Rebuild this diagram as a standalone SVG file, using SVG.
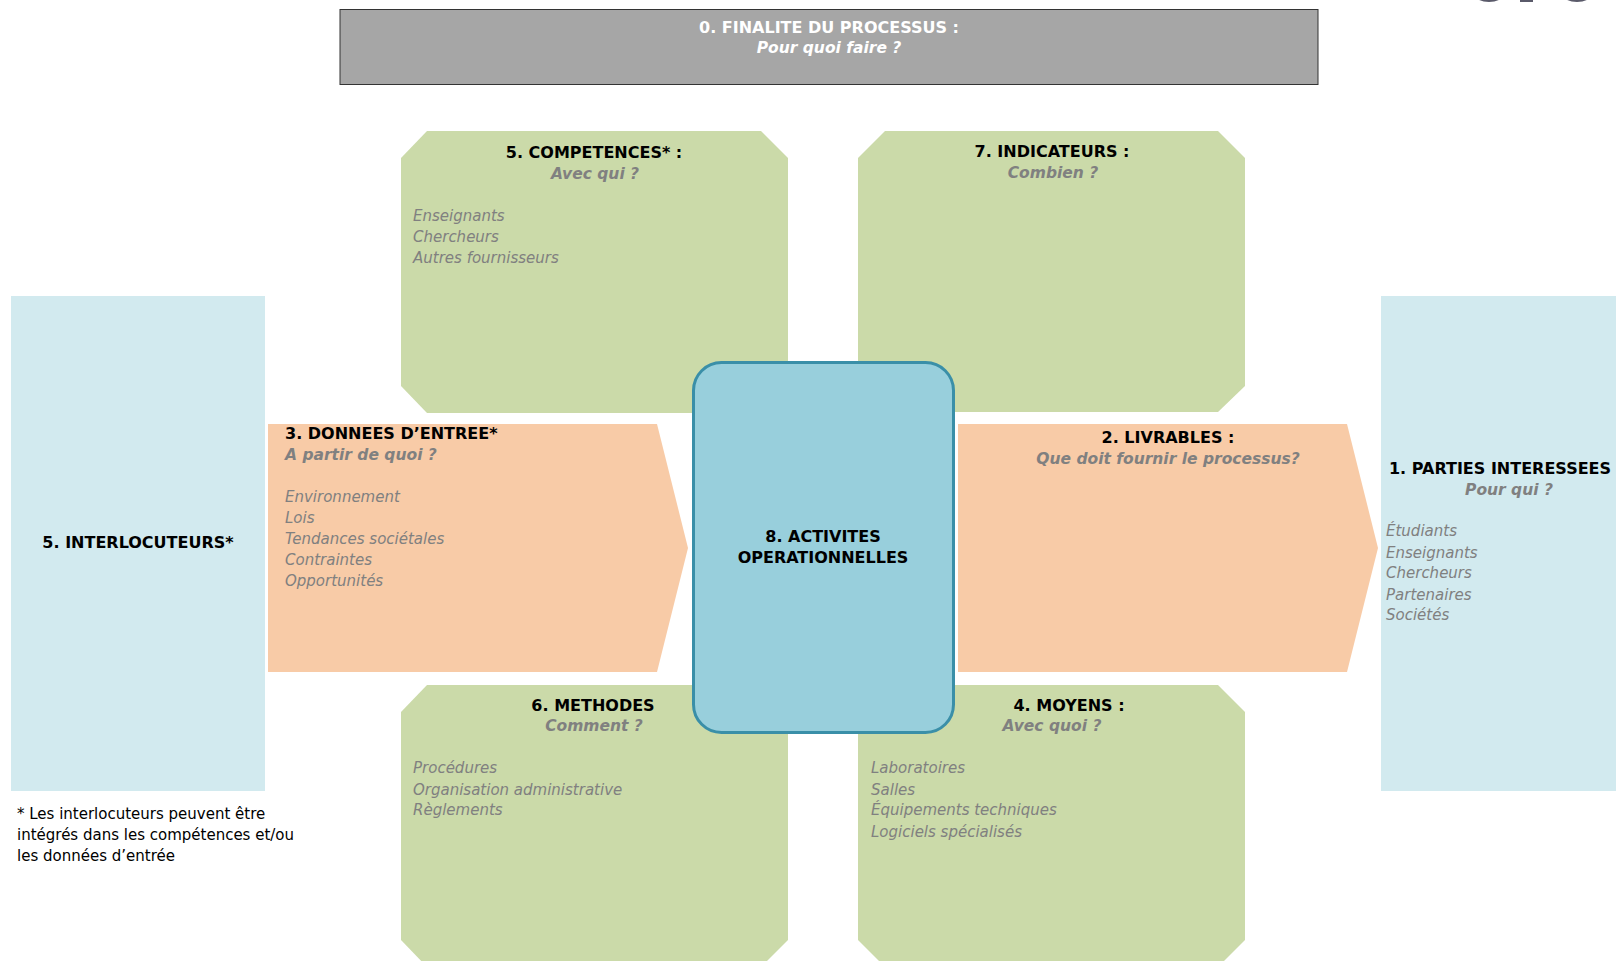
<svg xmlns="http://www.w3.org/2000/svg" width="1616" height="961" viewBox="0 0 1616 961">
<style>
.green{fill:#cbdaa9}
.orange{fill:#f8cba7}
.side{fill:#d2eaef}
.h{font-family:"DejaVu Sans",Verdana,sans-serif;font-weight:bold;font-size:16px;fill:#000}
.sub{font-family:"DejaVu Sans",Verdana,sans-serif;font-weight:bold;font-style:italic;font-size:15.5px;fill:#808080}
.item{font-family:"DejaVu Sans",Verdana,sans-serif;font-style:italic;font-size:15px;fill:#808080}
.note{font-family:"DejaVu Sans",Verdana,sans-serif;font-size:15px;fill:#000}
.c{text-anchor:middle}
</style>
<rect width="1616" height="961" fill="#ffffff"/>

<g id="logo-fragment" fill="#5a5a6a">
<ellipse cx="1489" cy="-5" rx="14" ry="7"/>
<rect x="1520" y="0" width="13" height="2"/>
<ellipse cx="1577" cy="-5" rx="14" ry="7"/>
</g>

<g id="node-finalite">
<rect x="340" y="9.5" width="978" height="75" fill="#a6a6a6" stroke="#333333" stroke-width="1"/>
<text class="h c" x="829" y="33" style="fill:#ffffff">0. FINALITE DU PROCESSUS :</text>
<text class="sub c" x="829" y="53" style="fill:#ffffff">Pour quoi faire ?</text>
</g>

<g id="node-competences">
<polygon class="green" points="427,131 761,131 788,158 788,386 761,413 427,413 401,386 401,158"/>
<text class="h c" x="594" y="158">5. COMPETENCES* :</text>
<text class="sub c" x="595" y="179">Avec qui ?</text>
<text class="item" x="413" y="221">Enseignants</text>
<text class="item" x="413" y="242">Chercheurs</text>
<text class="item" x="413" y="263">Autres fournisseurs</text>
</g>

<g id="node-indicateurs">
<polygon class="green" points="885,131 1218,131 1245,158 1245,386 1218,412 885,412 858,386 858,158"/>
<text class="h c" x="1052" y="157">7. INDICATEURS :</text>
<text class="sub c" x="1053" y="178">Combien ?</text>
</g>

<g id="node-methodes">
<polygon class="green" points="427,685 761,685 788,712 788,940 761,967 427,967 401,940 401,712"/>
<text class="h c" x="593" y="711">6. METHODES</text>
<text class="sub c" x="594" y="731">Comment ?</text>
<text class="item" x="413" y="773">Procédures</text>
<text class="item" x="413" y="795">Organisation administrative</text>
<text class="item" x="413" y="815">Règlements</text>
</g>

<g id="node-moyens">
<polygon class="green" points="885,685 1218,685 1245,712 1245,940 1218,967 885,967 858,940 858,712"/>
<text class="h c" x="1069" y="711">4. MOYENS :</text>
<text class="sub c" x="1052" y="731">Avec quoi ?</text>
<text class="item" x="871" y="773">Laboratoires</text>
<text class="item" x="871" y="795">Salles</text>
<text class="item" x="871" y="815">Équipements techniques</text>
<text class="item" x="871" y="837">Logiciels spécialisés</text>
</g>

<g id="node-interlocuteurs">
<rect class="side" x="11" y="296" width="254" height="495"/>
<text class="h c" x="138" y="548">5. INTERLOCUTEURS*</text>
</g>

<g id="node-donnees-entree">
<polygon class="orange" points="268,424 657,424 688,548 657,672 268,672"/>
<text class="h" x="285" y="439">3. DONNEES D’ENTREE*</text>
<text class="sub" x="285" y="460">A partir de quoi ?</text>
<text class="item" x="285" y="502">Environnement</text>
<text class="item" x="285" y="523">Lois</text>
<text class="item" x="285" y="544">Tendances sociétales</text>
<text class="item" x="285" y="565">Contraintes</text>
<text class="item" x="285" y="586">Opportunités</text>
</g>

<g id="node-livrables">
<polygon class="orange" points="958,424 1347,424 1378,548 1347,672 958,672"/>
<text class="h c" x="1168" y="443">2. LIVRABLES :</text>
<text class="sub c" x="1168" y="464">Que doit fournir le processus?</text>
</g>

<g id="node-parties-interessees">
<rect class="side" x="1381" y="296" width="240" height="495"/>
<text class="h c" x="1500" y="474">1. PARTIES INTERESSEES</text>
<text class="sub c" x="1509" y="495">Pour qui ?</text>
<text class="item" x="1386" y="536">Étudiants</text>
<text class="item" x="1386" y="558">Enseignants</text>
<text class="item" x="1386" y="578">Chercheurs</text>
<text class="item" x="1386" y="600">Partenaires</text>
<text class="item" x="1386" y="620">Sociétés</text>
</g>

<g id="node-activites">
<rect x="693.5" y="362.5" width="260" height="370" rx="28" ry="28" fill="#98cfdc" stroke="#3a8fa8" stroke-width="3"/>
<text class="h c" x="823" y="542">8. ACTIVITES</text>
<text class="h c" x="823" y="563">OPERATIONNELLES</text>
</g>

<g id="connectors"></g>

<g id="footnote">
<text class="note" x="17" y="819">* Les interlocuteurs peuvent être</text>
<text class="note" x="17" y="840">intégrés dans les compétences et/ou</text>
<text class="note" x="17" y="861">les données d’entrée</text>
</g>
</svg>
